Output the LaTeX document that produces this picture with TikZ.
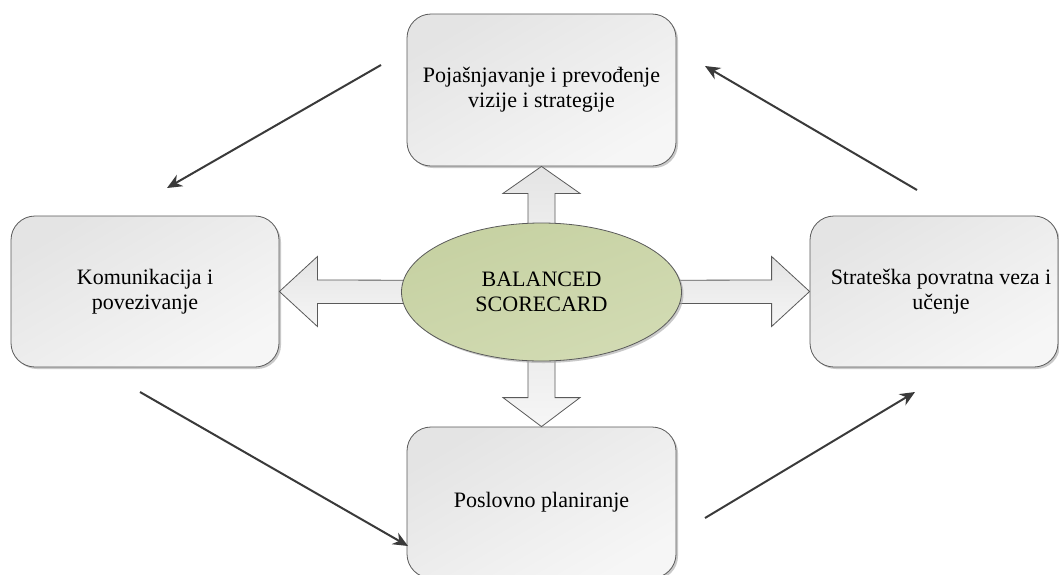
\documentclass[tikz,border=0pt]{standalone}
\usepackage{fontspec}
\setmainfont{Liberation Serif}
\usetikzlibrary{shapes.geometric,arrows.meta,calc,shadows}
\definecolor{boxline}{HTML}{5A5A5A}
\definecolor{boxtop}{HTML}{E4E4E4}
\definecolor{boxbot}{HTML}{F6F6F6}
\definecolor{olive}{HTML}{C6D1A2}
\definecolor{olivelight}{HTML}{D2DBB3}
\definecolor{arrowdark}{HTML}{3A3A3A}
\tikzset{
  box/.style={draw=boxline, line width=0.8pt, rounded corners=24pt,
    shading=axis, top color=boxtop, bottom color=boxbot, shading angle=30,
    drop shadow={shadow xshift=2pt, shadow yshift=-2pt, fill=black!35, opacity=0.6},
    align=center, font=\fontsize{22}{25}\selectfont, inner sep=0pt},
  core/.style={ellipse, draw=boxline, line width=0.8pt, left color=olive, right color=olivelight,
    shading angle=20, minimum width=280pt, minimum height=138pt, inner sep=0pt,
    align=center, font=\fontsize{22}{25}\selectfont,
    drop shadow={shadow xshift=2pt, shadow yshift=-2pt, fill=black!35, opacity=0.6}},
  barrow/.style={draw=boxline, line width=0.8pt, top color=boxtop, bottom color=boxbot, line join=miter},
  flow/.style={draw=arrowdark, line width=2pt, -{Stealth[length=15pt,width=13pt]}}
}
\begin{document}
\begin{tikzpicture}[x=1pt,y=-1pt]
\clip (0,0) rectangle (1059,574);
\fill[white] (0,0) rectangle (1059,574);
% boxes
\node[box, minimum width=269pt, minimum height=152pt] (top) at (541.5,90) {Pojašnjavanje i prevođenje\\vizije i strategije};
\node[box, minimum width=268pt, minimum height=151pt] (left) at (145,291.5) {Komunikacija i\\povezivanje};
\node[box, minimum width=248pt, minimum height=151pt] (right) at (934,291.5) {\hspace*{14pt}Strateška povratna veza i\\\hspace*{14pt}učenje};
\node[box, minimum width=269pt, minimum height=151pt] (bottom) at (541.5,502.5) {Poslovno planiranje};
\coordinate (c) at (541.5,292);
% block arrows
\draw[barrow] (top.south) -- ++(38.5,27) -- ++(-25,0) -- ($(c)+(13.5,0)$) -- ($(c)+(-13.5,0)$) |- ($(top.south)+(-38.5,27)$) -- cycle;
\draw[barrow] (bottom.north) -- ++(38.5,-29) -- ++(-25,0) -- ($(c)+(13.5,0)$) -- ($(c)+(-13.5,0)$) |- ($(bottom.north)+(-38.5,-29)$) -- cycle;
\draw[barrow] (left.east) -- ++(38,-35) -- ++(0,23.5) -- ($(c)+(0,-11.5)$) -- ($(c)+(0,11.5)$) -| ($(left.east)+(38,35)$) -- cycle;
\draw[barrow] (right.west) -- ++(-38,-35) -- ++(0,23.5) -- ($(c)+(0,-11.5)$) -- ($(c)+(0,11.5)$) -| ($(right.west)+(-38,35)$) -- cycle;
% core
\node[core] (bsc) at (c) {BALANCED\\SCORECARD};
% flow arrows
\coordinate (s1) at (381,65);  \coordinate (e1) at (167,188);
\coordinate (s2) at (140,392); \coordinate (e2) at (408,546);
\coordinate (s3) at (705,518); \coordinate (e3) at (915,392);
\coordinate (s4) at (917,190); \coordinate (e4) at (705,66);
\draw[flow] (s1) -- (e1);
\draw[flow] (s2) -- (e2);
\draw[flow] (s3) -- (e3);
\draw[flow] (s4) -- (e4);
\end{tikzpicture}
\end{document}
